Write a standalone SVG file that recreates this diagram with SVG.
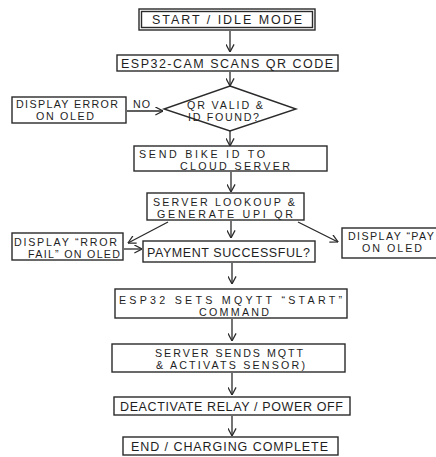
<svg xmlns="http://www.w3.org/2000/svg" width="436" height="457" viewBox="0 0 436 457">
<style>
.b{fill:#fff;stroke:#2a2a2a;stroke-width:1.4}
.t{font-family:"Liberation Sans",Arial,sans-serif;font-size:12.5px;fill:#1e1e1e}
.s{font-size:10.7px}
.c{fill:none;stroke:#2a2a2a;stroke-width:1.3}
</style>
<defs>
<marker id="ah" viewBox="0 0 10 10" refX="9.5" refY="5" markerWidth="9" markerHeight="9" markerUnits="userSpaceOnUse" orient="auto">
<path d="M1,0.5 L9.5,5 L1,9.5" fill="none" stroke="#2a2a2a" stroke-width="1.4"/>
</marker>
</defs>
<rect width="436" height="457" fill="#fff"/>
<g id="connectors">
<path class="c" marker-end="url(#ah)" d="M230,31 L230,52"/>
<path class="c" marker-end="url(#ah)" d="M230,72 L230,86"/>
<path class="c" marker-end="url(#ah)" d="M230,131 L230,146"/>
<path class="c" marker-end="url(#ah)" d="M231,172 L231,192"/>
<path class="c" marker-end="url(#ah)" d="M231,221 L231,238"/>
<path class="c" marker-end="url(#ah)" d="M232,263 L232,284"/>
<path class="c" marker-end="url(#ah)" d="M232,319 L232,341"/>
<path class="c" marker-end="url(#ah)" d="M232,373 L232,395"/>
<path class="c" marker-end="url(#ah)" d="M232,416 L232,436"/>
<path class="c" marker-end="url(#ah)" d="M127,111 L163,111"/>
<path class="c" marker-end="url(#ah)" d="M168,222 L128,243"/>
<path class="c" marker-end="url(#ah)" d="M298,222 L338,242"/>
<path class="c" marker-end="url(#ah)" d="M124,249 L142,249"/>
<text class="t s" x="133" y="108" textLength="17">NO</text>
</g>
<g id="start">
<rect class="b" x="139" y="9" width="176" height="21"/>
<rect class="b" x="141.5" y="11.5" width="171" height="16"/>
<text class="t" x="152" y="23.5" textLength="150">START / IDLE MODE</text>
</g>
<g id="scan">
<rect class="b" x="117" y="55" width="221" height="16"/>
<text class="t" x="121" y="67.5" textLength="212">ESP32-CAM SCANS QR CODE</text>
</g>
<g id="valid">
<path class="b" d="M230,86 L296,109 L230,131 L164,109 Z"/>
<text class="t s" x="187" y="108.5" textLength="76">QR VALID &amp;</text>
<text class="t s" x="188" y="120.5" textLength="71">ID FOUND?</text>
</g>
<g id="error">
<rect class="b" x="12" y="97" width="114" height="26"/>
<text class="t s" x="16" y="108" textLength="102">DISPLAY ERROR</text>
<text class="t s" x="36" y="120" textLength="58">ON OLED</text>
</g>
<g id="send">
<rect class="b" x="134" y="146" width="193" height="25"/>
<text class="t s" x="139" y="157.5" textLength="126">SEND BIKE ID TO</text>
<text class="t s" x="180" y="169.5" textLength="110">CLOUD SERVER</text>
</g>
<g id="lookup">
<rect class="b" x="147" y="193" width="157" height="27"/>
<text class="t s" x="153" y="206" textLength="142">SERVER LOOKOUP &amp;</text>
<text class="t s" x="157" y="218" textLength="136">GENERATE UPI QR</text>
</g>
<g id="fail">
<rect class="b" x="12" y="233" width="111" height="27"/>
<text class="t s" x="14" y="245.5" textLength="103">DISPLAY “RROR</text>
<text class="t s" x="28" y="257.5" textLength="92">FAIL” ON OLED</text>
</g>
<g id="payment">
<rect class="b" x="143" y="241" width="172" height="21"/>
<text class="t" x="147" y="256.5" textLength="163">PAYMENT SUCCESSFUL?</text>
</g>
<g id="pay">
<rect class="b" x="342" y="228" width="120" height="30"/>
<text class="t s" x="348" y="239.5" textLength="86">DISPLAY “PAY</text>
<text class="t s" x="362" y="251.5" textLength="60">ON OLED</text>
</g>
<g id="mqtt-start">
<rect class="b" x="115" y="289" width="232" height="29"/>
<text class="t s" x="119" y="304" textLength="223">ESP32 SETS MQYTT “START”</text>
<text class="t s" x="199" y="316" textLength="70">COMMAND</text>
</g>
<g id="server-sends">
<rect class="b" x="112" y="344" width="233" height="28"/>
<text class="t s" x="155" y="357" textLength="148">SERVER SENDS MQTT</text>
<text class="t s" x="156" y="369" textLength="149">&amp; ACTIVATS SENSOR)</text>
</g>
<g id="deactivate">
<rect class="b" x="114" y="397" width="236" height="18"/>
<text class="t" x="120" y="411" textLength="223">DEACTIVATE RELAY / POWER OFF</text>
</g>
<g id="end">
<rect class="b" x="123" y="437" width="215" height="18"/>
<text class="t" x="131" y="451" textLength="197">END / CHARGING COMPLETE</text>
</g>
</svg>
